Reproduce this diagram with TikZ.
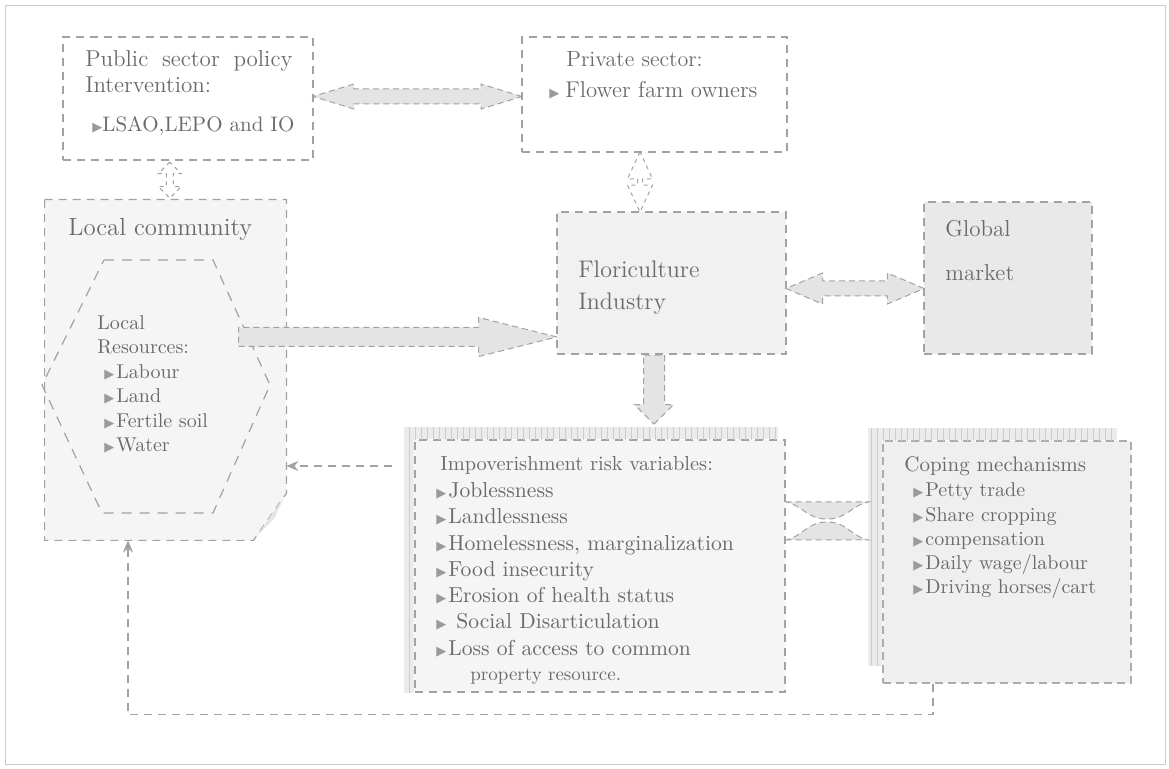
\documentclass[tikz,border=0pt]{standalone}
\usepackage{fontspec}
\newfontfamily\symf{DejaVu Sans}
\usetikzlibrary{shapes.arrows,calc,patterns,arrows.meta}
\definecolor{txt}{HTML}{6A6A6A}
\definecolor{dsh}{HTML}{A2A2A2}
\definecolor{bulc}{HTML}{9A9A9A}
\definecolor{fatfill}{HTML}{E4E4E4}
\definecolor{lcfill}{HTML}{F5F5F5}
\definecolor{florfill}{HTML}{F1F1F1}
\definecolor{globfill}{HTML}{E9E9E9}
\definecolor{impfill}{HTML}{F5F5F5}
\definecolor{copfill}{HTML}{EFEFEF}
\newcommand\bul{\textcolor{bulc}{\symf\fontsize{6.5}{6.5}\selectfont ▶}}
\newcommand\fs[1]{\fontsize{#1}{#1}\selectfont}
\begin{document}
\begin{tikzpicture}[x=0.5pt,y=-0.5pt,
  box/.style={draw=dsh, dash pattern=on 4pt off 3pt, line width=0.6pt, inner sep=0pt},
  tx/.style={text=txt, inner sep=0pt, anchor=base west},
  dline/.style={draw=dsh, dash pattern=on 4pt off 3pt, line width=0.6pt},
  fat/.style={draw=dsh, dash pattern=on 3pt off 2pt, line width=0.5pt, fill=fatfill, inner xsep=0pt, text height=0pt, text depth=0pt},
  dbl/.style={fat, double arrow},
  sgl/.style={fat, single arrow},
  small/.style={draw=dsh, dash pattern=on 2pt off 2pt, line width=0.5pt, double arrow, inner xsep=0pt, text height=0pt, text depth=0pt, rotate=90},
  hatch/.style={fill=gray!16, postaction={pattern=vertical lines, pattern color=gray!40}},
]
\useasboundingbox (0,0) rectangle (1169,769);
\fill[white] (0,0) rectangle (1169,769);
\draw[gray!40, line width=0.5pt] (5,6) rectangle (1165,765);

% boxes
\node[box, minimum width=125pt, minimum height=61.5pt] (pub) at (188,98.5) {};
\node[box, minimum width=132.5pt, minimum height=57.5pt] (priv) at (654.5,94.5) {};
\node[inner sep=0pt, minimum width=120.5pt, minimum height=170pt] (lc) at (165.5,370) {};
\draw[box, fill=lcfill] (lc.north west) -- (lc.north east) -- ($(lc.south east)+(0,-47)$) -- ($(lc.south east)+(-33,0)$) -- (lc.south west) -- cycle;
\fill[gray!20] ($(lc.south east)+(-30,-4)$) -- ($(lc.south east)+(-2,-44)$) -- ($(lc.south east)+(-12,-22)$) -- cycle;
\draw[dline, dash pattern=on 5pt off 4pt] (104,260) -- (213,260) -- (270,385) -- (213,513) -- (102,513) -- (42,385) -- cycle;
\coordinate (res) at (238,337);

\node[box, fill=florfill, minimum width=114.5pt, minimum height=71pt] (flor) at (671.5,283) {};
\node[box, fill=globfill, minimum width=84pt, minimum height=76pt] (glob) at (1008,278) {};

\node[box, fill=impfill, minimum width=185pt, minimum height=126pt] (imp) at (600,566) {};
\node[box, fill=copfill, draw=gray!65, dash pattern=on 4pt off 2.5pt, minimum width=124pt, minimum height=121pt] (cop) at (1007,562) {};
\fill[hatch] ($(imp.north west)+(-10,-12)$) rectangle ($(imp.north east)+(-8,0)$);
\fill[hatch] ($(imp.north west)+(-10,0)$) rectangle (imp.south west);
\fill[hatch] ($(cop.north west)+(-14,-12)$) rectangle ($(cop.north east)+(-15,0)$);
\fill[hatch] ($(cop.north west)+(-14,0)$) rectangle ($(cop.south west)+(0,-18)$);

% texts
\node[tx, font=\fs{11.5}] (pt1) at (85,67) {\makebox[103.5pt][s]{Public sector policy}};
\node[tx, font=\fs{11.5}] (pt2) at (85,93) {Intervention:};
\node[tx, font=\fs{10.5}] (pt3) at (92,132) {\bul LSAO,LEPO and IO};
\node[tx, font=\fs{11}] (vt1) at (566,67) {Private sector:};
\node[tx, font=\fs{11.4}] (vt2) at (549,98) {\bul\hspace{3pt}Flower farm owners};
\node[tx, font=\fs{12.4}] (lct) at (68,236) {Local community};
\node[tx, font=\fs{10}] (h1) at (97,330) {Local};
\node[tx, font=\fs{10}] (h2) at (97,354) {Resources:};
\node[tx, font=\fs{10}] (h3) at (104,379) {\bul\hspace{1pt}Labour};
\node[tx, font=\fs{10}] (h4) at (104,403) {\bul\hspace{1pt}Land};
\node[tx, font=\fs{10}] (h5) at (104,428) {\bul\hspace{1pt}Fertile soil};
\node[tx, font=\fs{10}] (h6) at (104,452) {\bul\hspace{1pt}Water};
\node[tx, font=\fs{12}] (ft1) at (578,278) {Floriculture};
\node[tx, font=\fs{12}] (ft2) at (578,310) {Industry};
\node[tx, font=\fs{11.5}] (gt1) at (945,237) {Global};
\node[tx, font=\fs{11.5}] (gt2) at (945,281) {market};
\node[tx, font=\fs{10.2}] (it0) at (440,471) {Impoverishment risk variables:};
\node[tx, font=\fs{10.8}] (it1) at (436,498) {\bul\hspace{1pt}Joblessness};
\node[tx, font=\fs{10.8}] (it2) at (436,524) {\bul\hspace{1pt}Landlessness};
\node[tx, font=\fs{10.8}] (it3) at (436,551) {\bul\hspace{1pt}Homelessness, marginalization};
\node[tx, font=\fs{10.8}] (it4) at (436,577) {\bul\hspace{1pt}Food insecurity};
\node[tx, font=\fs{10.8}] (it5) at (436,603) {\bul\hspace{1pt}Erosion of health status};
\node[tx, font=\fs{10.8}] (it6) at (436,629) {\bul\hspace{5pt}Social Disarticulation};
\node[tx, font=\fs{10.8}] (it7) at (436,656) {\bul\hspace{1pt}Loss of access to common};
\node[tx, font=\fs{9.5}] (it8) at (470,681) {\addfontfeature{LetterSpace=4}property resource.};
\node[tx, font=\fs{10.5}] (ct0) at (904,472) {Coping mechanisms};
\node[tx, font=\fs{10}] (ct1) at (913,497) {\bul\hspace{1pt}Petty trade};
\node[tx, font=\fs{10}] (ct2) at (913,522) {\bul\hspace{1pt}Share cropping};
\node[tx, font=\fs{10}] (ct3) at (913,546) {\bul\hspace{1pt}compensation};
\node[tx, font=\fs{10}] (ct4) at (913,570) {\bul\hspace{1pt}Daily wage/labour};
\node[tx, font=\fs{10}] (ct5) at (913,594) {\bul\hspace{1pt}Driving horses/cart};

% fat arrows
\node[dbl, inner ysep=3.5pt, double arrow head extend=2.5pt, double arrow tip angle=34, minimum height=104.5pt] (a1) at ($(pub.east)!0.5!(priv.west)$) {};
\node[dbl, inner ysep=3.5pt, double arrow head extend=4pt, double arrow tip angle=46, minimum height=69pt] (a2) at ($(flor.east)!0.5!(glob.west)+(0,8)$) {};
\path let \p1=(res), \p2=(res -| flor.west) in node[sgl, anchor=tail, inner ysep=4.5pt, single arrow head extend=5pt, single arrow tip angle=28, minimum height={\x2-\x1}] (a3) at (\p1) {};
\node[sgl, anchor=tail, rotate=-90, inner ysep=5pt, single arrow head extend=4.5pt, single arrow tip angle=90, minimum height=34.5pt] (a4) at ($(flor.south)+(-17.5,0)$) {};
\node[small, inner ysep=1.5pt, double arrow head extend=4pt, double arrow tip angle=90, minimum height=18pt] (a5) at ($(pub.south)!0.5!(lc.north)+(-7,0)$) {};
\node[small, inner ysep=1pt, double arrow head extend=5pt, double arrow tip angle=50, minimum height=30pt] (a6) at ($(priv.south)!0.5!(flor.north)+(-23,0)$) {};

% bowtie between impoverishment and coping
\coordinate (u1) at ($(imp.east)+(0,-64)$);
\coordinate (u2) at ($(cop.west)+(-14,-60)$);
\coordinate (um) at ($(u1)!0.5!(u2)+(0,17)$);
\draw[fat] (u1) -- (u2) .. controls +(-18,4) and +(20,0) .. (um) .. controls +(-20,0) and +(18,4) .. (u1);
\coordinate (l1b) at ($(imp.east)+(0,-26)$);
\coordinate (l2b) at ($(cop.west)+(-14,-22)$);
\coordinate (lm) at ($(l1b)!0.5!(l2b)+(0,-18)$);
\draw[fat] (l1b) -- (l2b) .. controls +(-18,-4) and +(20,0) .. (lm) .. controls +(-20,0) and +(18,-4) .. (l1b);

% dashed connectors
\coordinate (e1) at ($(imp.west)+(-22,-100)$);
\draw[dline, -{Stealth[length=6pt,width=5pt]}] (e1) -- (e1 -| lc.east);
\coordinate (c1) at ($(cop.south)+(-74,0)$);
\coordinate (l1) at ($(lc.south)+(-37.5,0)$);
\draw[dline, -{Stealth[length=6pt,width=5pt]}] (c1) -- ++(0,31) -| (l1);
\end{tikzpicture}
\end{document}
